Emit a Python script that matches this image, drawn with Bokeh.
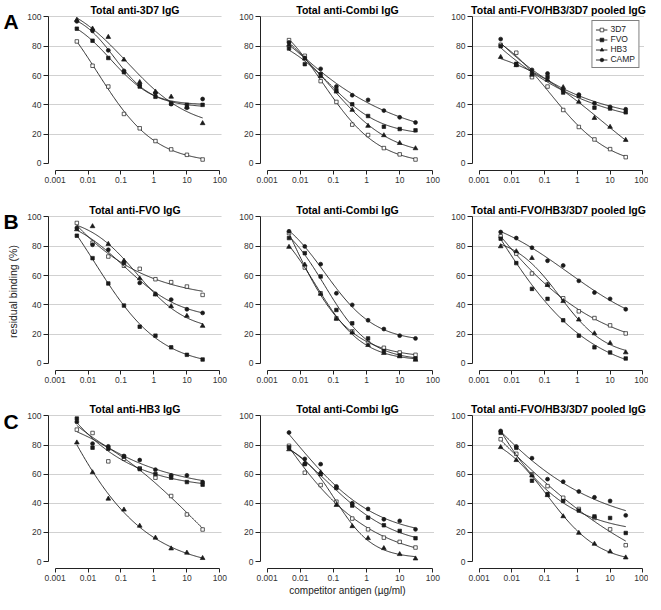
import numpy as np
from bokeh.plotting import figure
from bokeh.layouts import row, column
from bokeh.models import Range1d, FixedTicker, Legend, LegendItem
from bokeh.embed import file_html
from bokeh.resources import INLINE
from bokeh.core.properties import value

# ---------------- data ----------------
conc = [0.00457, 0.0137, 0.0412, 0.123, 0.370, 1.11, 3.33, 10.0, 30.0]
series = ["3D7", "FVO", "HB3", "CAMP"]
panel_letters = ["A", "B", "C"]
panel_titles = [
    ["Total anti-3D7 IgG", "Total anti-Combi IgG", "Total anti-FVO/HB3/3D7 pooled IgG"],
    ["Total anti-FVO IgG", "Total anti-Combi IgG", "Total anti-FVO/HB3/3D7 pooled IgG"],
    ["Total anti-HB3 IgG", "Total anti-Combi IgG", "Total anti-FVO/HB3/3D7 pooled IgG"],
]
x_ticks = [0.001, 0.01, 0.1, 1, 10, 100]
x_tick_labels = ["0.001", "0.01", "0.1", "1", "10", "100"]
y_ticks = [0, 20, 40, 60, 80, 100]
y_grid = [20, 40, 60, 80, 100]
y_title = "residual binding (%)"
x_title = "competitor antigen (\u00b5g/ml)"

# row A
A1_3D7 = [83.3, 66.7, 52.5, 33.8, 24.0, 15.3, 9.6, 5.9, 2.7]
A1_FVO = [92.0, 83.8, 72.0, 62.3, 52.5, 45.5, 41.0, 40.0, 40.0]
A1_HB3 = [98.0, 92.0, 86.3, 70.8, 55.5, 49.0, 45.5, 38.5, 27.4]
A1_CAMP = [97.0, 90.5, 77.2, 63.2, 53.5, 48.0, 40.5, 38.0, 44.0]

A2_3D7 = [84.2, 73.5, 56.2, 42.0, 26.5, 19.4, 10.5, 6.2, 2.7]
A2_FVO = [78.5, 67.8, 61.0, 50.0, 40.4, 32.4, 25.1, 23.5, 22.6]
A2_HB3 = [81.0, 71.5, 59.5, 49.0, 36.5, 25.6, 19.2, 13.9, 10.3]
A2_CAMP = [82.6, 72.0, 64.6, 52.5, 46.6, 43.4, 36.1, 31.5, 28.0]

A3_3D7 = [81.0, 75.6, 58.9, 52.5, 36.5, 24.9, 16.4, 9.8, 4.3]
A3_FVO = [80.0, 68.0, 61.5, 59.0, 48.4, 46.0, 38.1, 37.5, 34.9]
A3_HB3 = [72.6, 67.0, 60.5, 57.0, 52.0, 42.0, 31.0, 24.9, 16.0]
A3_CAMP = [84.9, 67.4, 63.9, 61.4, 50.0, 47.0, 41.1, 38.6, 37.0]

# row B
B1_3D7 = [95.9, 82.4, 73.0, 66.7, 64.6, 57.5, 55.5, 52.5, 46.8]
B1_FVO = [87.2, 71.9, 54.6, 39.5, 25.1, 19.0, 11.0, 5.9, 2.7]
B1_HB3 = [91.5, 93.6, 81.5, 70.1, 58.0, 47.0, 39.0, 32.4, 25.6]
B1_CAMP = [92.5, 81.0, 77.6, 68.5, 55.0, 47.5, 43.6, 37.0, 34.5]

B2_3D7 = [89.0, 65.5, 47.9, 30.8, 21.9, 13.9, 10.7, 7.5, 5.9]
B2_FVO = [85.6, 75.3, 59.4, 36.5, 27.4, 17.1, 8.5, 5.5, 3.4]
B2_HB3 = [79.5, 67.4, 47.5, 30.5, 21.0, 12.5, 7.1, 4.8, 2.5]
B2_CAMP = [90.2, 79.9, 67.8, 47.9, 40.0, 29.5, 23.5, 19.0, 17.1]

B3_3D7 = [86.8, 75.0, 61.4, 53.9, 44.5, 35.6, 31.0, 26.0, 20.5]
B3_FVO = [85.2, 68.5, 50.9, 44.1, 29.5, 19.0, 11.0, 7.5, 3.4]
B3_HB3 = [79.9, 76.5, 71.9, 53.5, 42.5, 29.9, 20.5, 13.9, 7.5]
B3_CAMP = [89.7, 85.6, 79.0, 70.1, 66.9, 56.4, 48.4, 44.1, 37.0]

# row C
C1_3D7 = [90.6, 88.3, 68.8, 70.6, 64.0, 57.6, 45.0, 32.3, 22.0]
C1_FVO = [98.2, 78.2, 77.5, 72.0, 63.5, 60.1, 57.6, 54.6, 52.8]
C1_HB3 = [81.7, 61.2, 43.1, 35.6, 24.5, 16.3, 8.9, 6.0, 2.3]
C1_CAMP = [95.9, 81.0, 79.1, 72.5, 69.7, 63.1, 59.2, 59.2, 54.6]

C2_3D7 = [79.5, 61.0, 52.5, 41.1, 29.5, 22.1, 16.4, 13.5, 9.6]
C2_FVO = [78.5, 66.9, 60.0, 50.5, 38.4, 30.1, 24.9, 21.0, 16.0]
C2_HB3 = [77.0, 67.5, 61.2, 38.8, 24.2, 16.0, 9.1, 5.0, 2.0]
C2_CAMP = [88.6, 70.5, 66.9, 51.6, 40.0, 36.1, 29.0, 27.9, 22.1]

C3_3D7 = [84.0, 74.0, 60.0, 51.8, 43.8, 36.1, 29.9, 22.1, 11.2]
C3_FVO = [88.4, 78.1, 55.5, 46.3, 41.6, 35.0, 31.0, 29.9, 19.6]
C3_HB3 = [78.5, 69.6, 59.0, 45.5, 31.0, 19.6, 12.1, 6.8, 2.7]
C3_CAMP = [89.7, 79.0, 71.0, 56.6, 54.8, 48.1, 44.1, 41.6, 31.7]

panels = [
    [[A1_3D7, A1_FVO, A1_HB3, A1_CAMP], [A2_3D7, A2_FVO, A2_HB3, A2_CAMP], [A3_3D7, A3_FVO, A3_HB3, A3_CAMP]],
    [[B1_3D7, B1_FVO, B1_HB3, B1_CAMP], [B2_3D7, B2_FVO, B2_HB3, B2_CAMP], [B3_3D7, B3_FVO, B3_HB3, B3_CAMP]],
    [[C1_3D7, C1_FVO, C1_HB3, C1_CAMP], [C2_3D7, C2_FVO, C2_HB3, C2_CAMP], [C3_3D7, C3_FVO, C3_HB3, C3_CAMP]],
]

# ---------------- styles ----------------
FONT = "Liberation Sans"
INK = "#1a1a1a"
marker_style = {
    "3D7": dict(marker="square", size=3.5, fill_color="white"),
    "FVO": dict(marker="square", size=3.5, fill_color=INK),
    "HB3": dict(marker="triangle", size=4.7, fill_color=INK),
    "CAMP": dict(marker="circle", size=3.9, fill_color=INK),
}

COL_W = [212, 212, 200]
COL_L = [22, 23, 21]
COL_R = [15, 14, 4]
ROW_H = [200, 199, 199]
ROW_B = [30, 29, 29]
TOP_B = 15
STRIP_W = 24


# least-squares four-parameter logistic fit of the read points (as drawn in the source)
def fit_4pl(xs, ys):
    lx = np.log10(np.asarray(xs, float))
    y = np.asarray(ys, float)
    lc = np.arange(-4.5, 3.5001, 0.02)[:, None, None]
    hh = np.arange(0.15, 3.0001, 0.02)[None, :, None]
    f = 1.0 / (1.0 + 10.0 ** ((lx - lc) * hh))
    g = 1.0 - f
    sgg = (g * g).sum(-1)
    sff = (f * f).sum(-1)
    sfg = (f * g).sum(-1)
    sgy = (g * y).sum(-1)
    sfy = (f * y).sum(-1)
    det = sgg * sff - sfg * sfg
    with np.errstate(all="ignore"):
        bot = (sgy * sff - sfy * sfg) / det
        top = (sfy * sgg - sgy * sfg) / det
        sse = ((bot[..., None] * g + top[..., None] * f - y) ** 2).sum(-1)
    bad = ~np.isfinite(sse) | (np.abs(det) < 1e-10) | (top > 250) | (bot < -60) | (top < bot)
    sse = np.where(bad, np.inf, sse)
    i, j = np.unravel_index(np.argmin(sse), sse.shape)
    return lc[i, 0, 0], hh[0, j, 0], bot[i, j], top[i, j]


def curve(xs, ys):
    lc, h, b, t = fit_4pl(xs, ys)
    xc = np.logspace(np.log10(xs[0]), np.log10(xs[-1]), 150)
    yc = b + (t - b) / (1.0 + 10.0 ** ((np.log10(xc) - lc) * h))
    return xc, yc


def make_panel(r, c):
    p = figure(
        width=COL_W[c], height=ROW_H[r],
        x_axis_type="log",
        x_range=Range1d(10 ** -3.2, 10 ** 2.05),
        y_range=Range1d(-4.8, 101),
        output_backend="svg", toolbar_location=None,
        min_border_left=COL_L[c], min_border_right=COL_R[c],
        min_border_top=TOP_B, min_border_bottom=ROW_B[r],
    )
    p.outline_line_color = None
    p.background_fill_color = "white"
    p.border_fill_color = "white"
    p.title.text = panel_titles[r][c]
    p.title.align = "center"
    p.title.text_font = FONT
    p.title.text_font_style = "bold"
    p.title.text_font_size = "10.5px"
    p.title.text_color = "black"
    p.title.standoff = 0
    p.title.offset = 0

    p.xgrid.visible = False
    p.ygrid.ticker = FixedTicker(ticks=y_grid)
    p.ygrid.grid_line_color = "#8a8a8a"
    p.ygrid.grid_line_dash = "1 1"
    p.ygrid.grid_line_width = 0.8

    xa = p.xaxis[0]
    xa.ticker = FixedTicker(ticks=x_ticks)
    xa.major_label_overrides = {t: l for t, l in zip(x_ticks, x_tick_labels)}
    xa.bounds = (x_ticks[0], x_ticks[-1])
    ya = p.yaxis[0]
    ya.ticker = FixedTicker(ticks=y_ticks)
    ya.bounds = (y_ticks[0], y_ticks[-1])
    for ax in (xa, ya):
        ax.axis_line_color = "#222222"
        ax.axis_line_width = 1
        ax.major_tick_line_color = "#222222"
        ax.major_tick_in = 0
        ax.minor_tick_line_color = None
        ax.major_label_text_font = FONT
        ax.major_label_text_font_size = "8.5px"
        ax.major_label_text_color = "#333333"
        ax.major_label_standoff = 2
    xa.major_tick_out = 4
    ya.major_tick_out = 5
    if r == 2:
        xa.axis_label = x_title if c == 1 else " "
        xa.axis_label_text_font = FONT
        xa.axis_label_text_font_size = "10px"
        xa.axis_label_text_font_style = "normal"
        xa.axis_label_text_color = "#222222"
        xa.axis_label_standoff = 1

    items = []
    for name, ys in zip(series, panels[r][c]):
        xc, yc = curve(conc, ys)
        lr = p.line(xc, yc, line_color=INK, line_width=0.9)
        st = marker_style[name]
        sr = p.scatter(conc, ys, marker=st["marker"], size=st["size"],
                       fill_color=st["fill_color"], line_color=INK, line_width=0.7)
        items.append(LegendItem(label=name, renderers=[lr, sr]))
    if r == 0 and c == 2:
        lg = Legend(items=items, location="top_right")
        lg.label_text_font = FONT
        lg.label_text_font_size = "8.5px"
        lg.label_text_color = "#222222"
        lg.glyph_width = 12
        lg.glyph_height = 9
        lg.label_height = 9
        lg.label_standoff = 3
        lg.spacing = 0
        lg.padding = 3
        lg.margin = 5
        lg.border_line_color = "black"
        lg.border_line_width = 0.8
        lg.background_fill_color = "white"
        lg.background_fill_alpha = 1
        p.add_layout(lg)
    return p


rows = []
for r in range(3):
    rows.append(row(*[make_panel(r, c) for c in range(3)]))
grid = column(*rows)

H = sum(ROW_H)
strip = figure(width=STRIP_W, height=H, x_range=Range1d(0, STRIP_W), y_range=Range1d(0, H),
               output_backend="svg", toolbar_location=None,
               x_axis_location=None, y_axis_location=None,
               min_border_left=0, min_border_right=0, min_border_top=0, min_border_bottom=0)
strip.grid.visible = False
strip.outline_line_color = None
letter_y = [H - 20.5, H - 220.5, H - 420.5]
strip.text(x=[10.5, 10.5, 10.5], y=letter_y, text=panel_letters,
           text_font=value(FONT), text_font_style="bold", text_font_size="21px",
           text_align="center", text_baseline="middle", text_color="black")
strip.text(x=[12], y=[H - 291], text=[y_title], angle=np.pi / 2,
           text_font=value(FONT), text_font_size="10.5px",
           text_align="center", text_baseline="middle", text_color="#222222")

layout = row(strip, grid)
open("out.html", "w").write(file_html(layout, INLINE))
